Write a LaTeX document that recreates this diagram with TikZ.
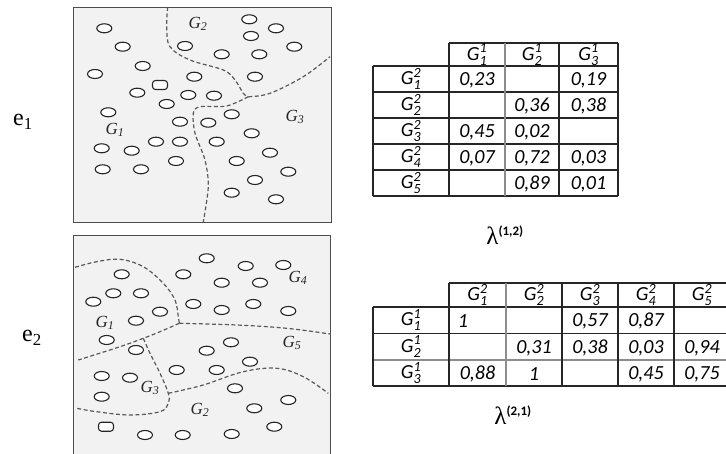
\documentclass[tikz,border=0pt]{standalone}
\usepackage{amsmath}
\usepackage{fontspec}
\setmainfont{Liberation Serif}
\newfontfamily\calfont{Carlito}
\newcommand\GG[2]{\textit{G}$_{\text{#1}}^{\text{#2}}$}
\begin{document}
\begin{tikzpicture}[x=1pt,y=-1pt,
  panel/.style={draw=black!70, line width=0.9pt, fill=black!5},
  dot/.style={draw=black!85, line width=1.1pt, fill=white},
  border/.style={dash pattern=on 4pt off 2.5pt, draw=black!65, line width=1.2pt},
  glab/.style={font=\fontsize{17}{17}\selectfont\itshape, text=black!85, inner sep=0pt},
  cell/.style={font=\calfont\itshape\fontsize{20}{20}\selectfont, inner sep=0pt, anchor=center},
  tline/.style={draw=black!85, line width=1.5pt},
  tgray/.style={draw=black!45, line width=1.5pt},
  elab/.style={font=\fontsize{24}{24}\selectfont, inner sep=0pt},
  lam/.style={font=\fontsize{25}{25}\selectfont, inner sep=0pt}]
\useasboundingbox (0,0) rectangle (726,454);
\fill[white] (0,0) rectangle (726,454);
\begin{scope}
\clip (0,0) rectangle (726,454);
% ---------- panel e1 ----------
\draw[panel] (73,7) rectangle (331,222);
\foreach \x/\y in {104.3/28.3,122.7/46.7,142.7/66,95/74,249.3/19.3,276/28.3,251/36,294.3/46.7,
  185/46,221.7/54.3,259.3/54.3,194.3/76.7,255/76.7,137.3/92.7,188.3/95,214/95.7,166.7/104,
  108.3/112.3,231.7/114.3,180/121.7,208.3/122.7,251.7/133.3,101.7/148.3,131.7/150.7,156/141.7,
  180/141.7,216.7/141.7,270/152.7,176/161,236.7/161,288.3/171.7,102.7/169.3,141/169.3,255/180,
  231.7/192.7,276/199.3}
  \draw[dot] (\x,\y) ellipse [x radius=7.5pt, y radius=4.5pt];
\draw[dot, rounded corners=3pt] (152.5,80.5) rectangle (167.5,89.5);
\draw[border] plot[smooth, tension=0.6] coordinates {(167.7,7) (166.7,26.7) (170,46.7) (190,60) (223.3,70) (235,80) (243.3,93.3) (248.3,96.7)};
\draw[border] plot[smooth, tension=0.6] coordinates {(248.3,96.7) (270,93.3) (303.3,76.7) (330,56.7)};
\draw[border] plot[smooth, tension=0.5] coordinates {(248.3,96.7) (226.7,106) (200,106.7) (193.3,113.3) (195,133.3) (205,160) (208.3,186.7) (203.3,222)};
\node[glab] (t1g2) at (198,24) {G\textsubscript{2}};
\node[glab] (t1g3) at (295,117) {G\textsubscript{3}};
\node[glab] (t1g1) at (115,130) {G\textsubscript{1}};
% ---------- panel e2 ----------
\draw[panel] (73,235) rectangle (330,460);
\foreach \x/\y in {206.7/258.3,245.7/266,283.3/265,121.7/274.3,183.3/274.3,221.7/282.7,260/282.7,
  113.3/293.3,141/293.3,93.3/301.7,193.3/304,253.3/304,221.7/310,160/311.7,288.3/311,136/320.7,
  106.7/340,231/342.3,136/350,206.7/350.7,250/361.7,101.7/376,130/377.7,176.7/370,216.7/370,
  235/388.3,101.7/396.7,288.3/400,254.3/408.3,145/435,182.7/435,231.7/434,274.3/426.7}
  \draw[dot] (\x,\y) ellipse [x radius=7.5pt, y radius=4.5pt];
\draw[dot, rounded corners=3pt] (98.5,422.2) rectangle (113.5,431.2);
\draw[border] plot[smooth, tension=0.6] coordinates {(75,267.3) (96.7,261.7) (120,259.3) (143.3,266.7) (163.3,283.3) (175,300) (178.3,316.7) (179.3,323.3)};
\draw[border] plot[smooth, tension=0.6] coordinates {(179.3,323.3) (236.7,325) (286.7,328.3) (330,334)};
\draw[border] plot[smooth, tension=0.6] coordinates {(179.3,323.3) (160,331.7) (143.3,338.3) (120,346.7) (78.3,360)};
\draw[border] plot[smooth, tension=0.6] coordinates {(143.3,338.3) (150,353.3) (160,373.3) (168.3,393.3) (168.3,403.3) (160,411.7) (130,415) (96.7,411.7) (76.7,408.3)};
\draw[border] plot[smooth, tension=0.6] coordinates {(168.3,393.3) (203.3,385) (243.3,371.7) (276.7,368.3) (303.3,376.7) (328.3,393.3)};
\node[glab] (t2g4) at (298,278) {G\textsubscript{4}};
\node[glab] (t2g1) at (105,323) {G\textsubscript{1}};
\node[glab] (t2g5) at (292,343) {G\textsubscript{5}};
\node[glab] (t2g3) at (150,388) {G\textsubscript{3}};
\node[glab] (t2g2) at (200,410) {G\textsubscript{2}};
% ---------- e labels ----------
\node[elab] (e1) at (23,122) {e\textsubscript{1}};
\node[elab] (e2) at (32,338) {e\textsubscript{2}};
% ---------- table 1 ----------
\draw[tline] (449,43) -- (618,43);
\foreach \y in {66,92,118,144,170,196} \draw[tline] (373,\y) -- (618,\y);
\draw[tline] (373,66) -- (373,196);
\draw[tline] (449,43) -- (449,196);
\draw[tgray] (505,43) -- (505,196);
\draw[tline] (559,43) -- (559,196);
\draw[tline] (618,43) -- (618,196);
\node[cell] (a01) at (477,54.5) {\GG{1}{1}};
\node[cell] (a02) at (532,54.5) {\GG{2}{1}};
\node[cell] (a03) at (588.5,54.5) {\GG{3}{1}};
\node[cell] (a10) at (411,79) {\GG{1}{2}};
\node[cell] (a20) at (411,105) {\GG{2}{2}};
\node[cell] (a30) at (411,131) {\GG{3}{2}};
\node[cell] (a40) at (411,157) {\GG{4}{2}};
\node[cell] (a50) at (411,183) {\GG{5}{2}};
\node[cell] (a11) at (477,80) {0,23};
\node[cell] (a13) at (588.5,80) {0,19};
\node[cell] (a22) at (532,106) {0,36};
\node[cell] (a23) at (588.5,106) {0,38};
\node[cell] (a31) at (477,132) {0,45};
\node[cell] (a32) at (532,132) {0,02};
\node[cell] (a41) at (477,158) {0,07};
\node[cell] (a42) at (532,158) {0,72};
\node[cell] (a43) at (588.5,158) {0,03};
\node[cell] (a52) at (532,184) {0,89};
\node[cell] (a53) at (588.5,184) {0,01};
\node[lam] (lam1) at (505,235) {λ\textsuperscript{\calfont\bfseries\fontsize{13}{13}\selectfont(1,2)}};
% ---------- table 2 ----------
\draw[tline] (449,283) -- (730,283);
\draw[tline] (373,307) -- (730,307);
\draw[tline] (373,333.3) -- (730,333.3);
\draw[tgray] (373,360) -- (730,360);
\draw[tline] (373,386) -- (730,386);
\draw[tline] (373,307) -- (373,386);
\draw[tline] (449,283) -- (449,386);
\draw[tgray] (506,283) -- (506,386);
\draw[tline] (562,283) -- (562,386);
\draw[tline] (618,283) -- (618,386);
\draw[tline] (674,283) -- (674,386);
\node[cell] (b01) at (477.5,295) {\GG{1}{2}};
\node[cell] (b02) at (534,295) {\GG{2}{2}};
\node[cell] (b03) at (590,295) {\GG{3}{2}};
\node[cell] (b04) at (646,295) {\GG{4}{2}};
\node[cell] (b05) at (702,295) {\GG{5}{2}};
\node[cell] (b10) at (411,320) {\GG{1}{1}};
\node[cell] (b20) at (411,346.7) {\GG{2}{1}};
\node[cell] (b30) at (411,373) {\GG{3}{1}};
\node[cell] (b11) at (463,321) {1};
\node[cell] (b13) at (590,321) {0,57};
\node[cell] (b14) at (646,321) {0,87};
\node[cell] (b22) at (534,348) {0,31};
\node[cell] (b23) at (590,348) {0,38};
\node[cell] (b24) at (646,348) {0,03};
\node[cell] (b25) at (702,348) {0,94};
\node[cell] (b31) at (477.5,374) {0,88};
\node[cell] (b32) at (534,374) {1};
\node[cell] (b34) at (646,374) {0,45};
\node[cell] (b35) at (702,374) {0,75};
\node[lam] (lam2) at (513,415) {λ\textsuperscript{\calfont\bfseries\fontsize{13}{13}\selectfont(2,1)}};
\end{scope}
\end{tikzpicture}
\end{document}
